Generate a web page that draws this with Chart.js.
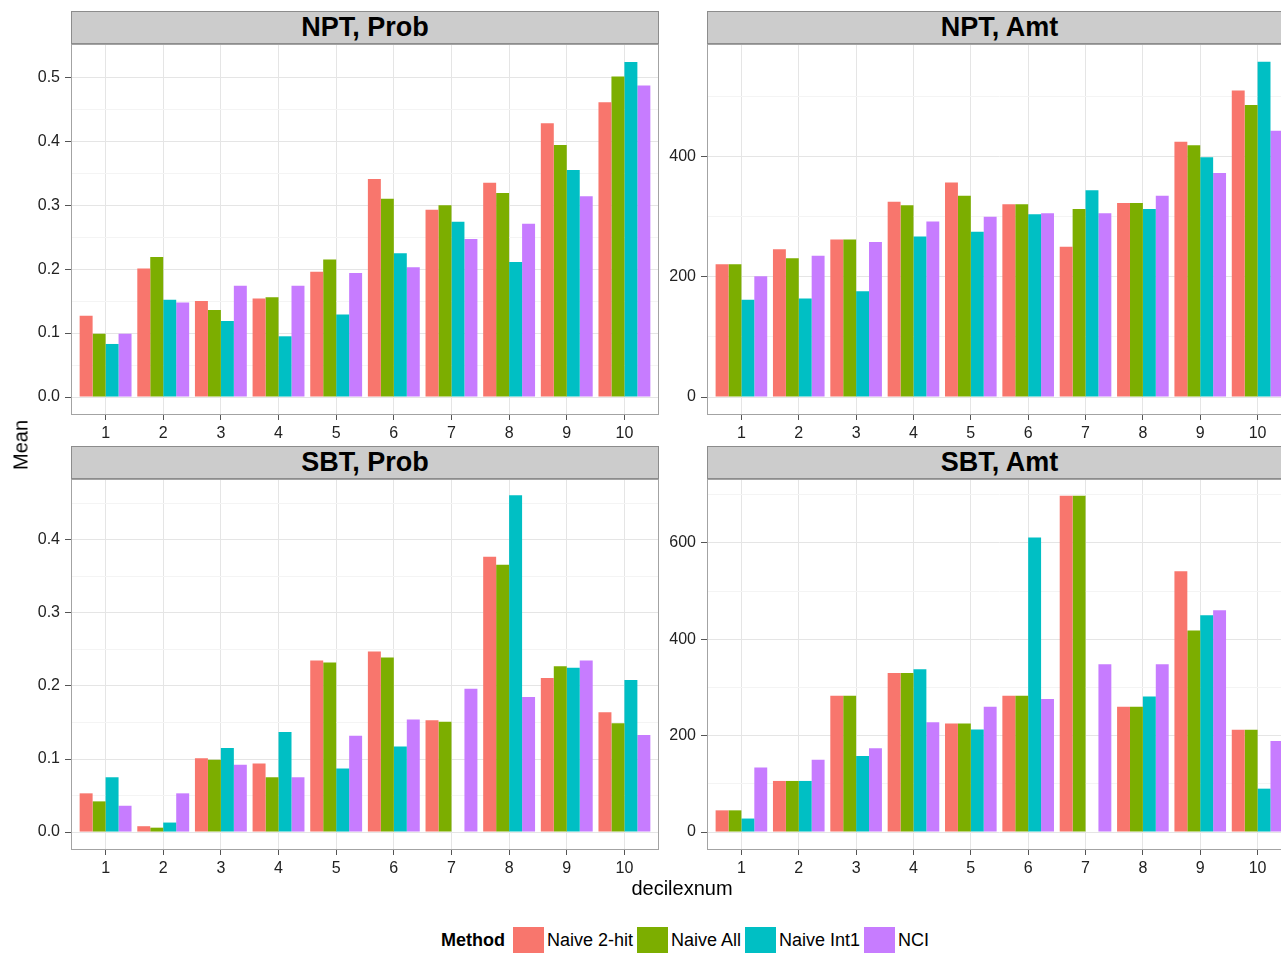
<!DOCTYPE html>
<html lang="en">
<head>
<meta charset="UTF-8">
<title>Mean by decile and method</title>
<script src="https://cdn.jsdelivr.net/npm/chart.js@4.4.8/dist/chart.umd.min.js"></script>
<style>
  html, body { margin: 0; padding: 0; background: #fff; overflow: hidden; }
  #page { position: relative; width: 1281px; height: 953px; overflow: hidden;
          font-family: "Liberation Sans", Arial, sans-serif; color: #000; }
  canvas { position: absolute; }
  .strip { position: absolute; height: 33px; box-sizing: border-box; background: #cccccc;
           border: 1px solid #8c8c8c; font-weight: bold; font-size: 27px; line-height: 31px;
           text-align: center; }
  .axis-title { position: absolute; font-size: 20px; white-space: nowrap; }
  #legend { position: absolute; left: 441px; top: 927px; height: 26px; display: flex;
            align-items: center; font-size: 18px; white-space: nowrap; }
  #legend b { margin-right: 8px; }
  #legend .key { width: 31px; height: 26px; margin-right: 3px; }
  #legend .lab { margin-right: 4px; }
</style>
</head>
<body>
<div id="page">
  <canvas id="c1" width="659" height="434" style="left:0px; top:11px;"></canvas>
  <canvas id="c2" width="632" height="434" style="left:660px; top:11px;"></canvas>
  <canvas id="c3" width="659" height="434" style="left:0px; top:446px;"></canvas>
  <canvas id="c4" width="632" height="434" style="left:660px; top:446px;"></canvas>

  <div class="strip" style="left:71px; top:11px; width:588px;">NPT, Prob</div>
  <div class="strip" style="left:707px; top:11px; width:585px;">NPT, Amt</div>
  <div class="strip" style="left:71px; top:446px; width:588px;">SBT, Prob</div>
  <div class="strip" style="left:707px; top:446px; width:585px;">SBT, Amt</div>

  <div class="axis-title" style="left:21px; top:445px; transform: translate(-50%, -50%) rotate(-90deg);">Mean</div>
  <div class="axis-title" style="left:682px; top:877px; transform: translateX(-50%);">decilexnum</div>

  <div id="legend"></div>
</div>

<script>
// categories
const deciles = [1, 2, 3, 4, 5, 6, 7, 8, 9, 10];
const methods = ['Naive 2-hit', 'Naive All', 'Naive Int1', 'NCI'];
const methodColors = ['#F8766D', '#7CAE00', '#00BFC4', '#C77CFF'];

// NPT, Prob
const nptProb2hit = [0.127, 0.201, 0.150, 0.154, 0.196, 0.341, 0.293, 0.335, 0.428, 0.461];
const nptProbAll  = [0.099, 0.219, 0.136, 0.156, 0.215, 0.310, 0.300, 0.319, 0.394, 0.501];
const nptProbInt1 = [0.083, 0.152, 0.119, 0.095, 0.129, 0.225, 0.274, 0.211, 0.355, 0.524];
const nptProbNci  = [0.099, 0.148, 0.174, 0.174, 0.194, 0.203, 0.247, 0.271, 0.314, 0.487];

// NPT, Amt
const nptAmt2hit = [221, 246, 262, 325, 357, 321, 250, 323, 425, 510];
const nptAmtAll  = [221, 231, 262, 319, 335, 321, 313, 323, 419, 486];
const nptAmtInt1 = [162, 164, 176, 267, 275, 304, 344, 313, 399, 558];
const nptAmtNci  = [201, 235, 258, 292, 300, 306, 306, 335, 373, 443];

// SBT, Prob
const sbtProb2hit = [0.053, 0.008, 0.101, 0.094, 0.235, 0.247, 0.153, 0.377, 0.211, 0.164];
const sbtProbAll  = [0.042, 0.006, 0.099, 0.075, 0.232, 0.239, 0.151, 0.366, 0.227, 0.149];
const sbtProbInt1 = [0.075, 0.013, 0.115, 0.137, 0.087, 0.117, null, 0.461, 0.225, 0.208];
const sbtProbNci  = [0.036, 0.053, 0.092, 0.075, 0.132, 0.154, 0.196, 0.185, 0.235, 0.133];

// SBT, Amt
const sbtAmt2hit = [45, 106, 283, 330, 225, 283, 698, 260, 541, 212];
const sbtAmtAll  = [45, 106, 283, 330, 225, 283, 698, 260, 418, 212];
const sbtAmtInt1 = [28, 106, 158, 338, 213, 611, null, 281, 450, 90];
const sbtAmtNci  = [134, 150, 174, 228, 260, 276, 348, 348, 460, 189];

// y tick labels (major) and minor grid positions
const nptProbTicks = [0, 0.1, 0.2, 0.3, 0.4, 0.5];
const nptProbMinor = [0.05, 0.15, 0.25, 0.35, 0.45];
const nptAmtTicks = [0, 200, 400];
const nptAmtMinor = [100, 300, 500];
const sbtProbTicks = [0, 0.1, 0.2, 0.3, 0.4];
const sbtProbMinor = [0.05, 0.15, 0.25, 0.35, 0.45];
const sbtAmtTicks = [0, 200, 400, 600];
const sbtAmtMinor = [100, 300, 500, 700];

// panel border like theme_bw
const panelBorder = {
  id: 'panelBorder',
  afterDraw(chart) {
    const a = chart.chartArea, c = chart.ctx;
    c.save();
    c.strokeStyle = '#a3a3a3';
    c.lineWidth = 1;
    c.strokeRect(a.left + 0.5, a.top + 0.5, a.right - a.left - 1, a.bottom - a.top);
    c.restore();
  }
};

function makePanel(id, series, yMin, yMax, majors, minors, digits, yWidth) {
  const datasets = series.map((vals, i) => ({
    label: methods[i],
    data: deciles.map((d, j) => ({ x: d, y: vals[j] })),
    backgroundColor: methodColors[i],
    borderWidth: 0,
    categoryPercentage: 0.9,
    barPercentage: 1.0
  }));
  const isMajor = v => majors.includes(v);
  new Chart(document.getElementById(id), {
    type: 'bar',
    data: { datasets: datasets },
    options: {
      responsive: false,
      animation: false,
      layout: { padding: { top: 33, left: 0, right: 0, bottom: 0 } },
      plugins: { legend: { display: false }, tooltip: { enabled: true } },
      scales: {
        x: {
          type: 'linear',
          min: 0.4, max: 10.6,
          offset: false,
          border: { display: false },
          grid: { offset: false, color: '#e5e5e5', tickColor: '#555', tickLength: 6 },
          ticks: { font: { family: 'Liberation Sans', size: 16 }, color: '#222', padding: 4,
                   maxRotation: 0, autoSkip: false, callback: v => String(v) },
          afterBuildTicks: s => { s.ticks = deciles.map(v => ({ value: v })); },
          afterFit: s => { s.height = 31; }
        },
        y: {
          min: yMin, max: yMax,
          border: { display: false },
          grid: {
            color: ctx => isMajor(ctx.tick.value) ? '#e5e5e5' : '#f4f4f4',
            tickColor: ctx => isMajor(ctx.tick.value) ? '#555' : 'rgba(0,0,0,0)',
            tickLength: 6
          },
          ticks: { font: { family: 'Liberation Sans', size: 16 }, color: '#222', padding: 5,
                   autoSkip: false,
                   callback: v => isMajor(v) ? v.toFixed(digits) : '' },
          afterBuildTicks: s => {
            s.ticks = majors.concat(minors).sort((a, b) => a - b).map(v => ({ value: v }));
          },
          afterFit: s => { s.width = yWidth; }
        }
      }
    },
    plugins: [panelBorder]
  });
}

makePanel('c1', [nptProb2hit, nptProbAll, nptProbInt1, nptProbNci], -0.0265, 0.552, nptProbTicks, nptProbMinor, 1, 71);
makePanel('c2', [nptAmt2hit, nptAmtAll, nptAmtInt1, nptAmtNci], -28.2, 587.5, nptAmtTicks, nptAmtMinor, 0, 47);
makePanel('c3', [sbtProb2hit, sbtProbAll, sbtProbInt1, sbtProbNci], -0.0232, 0.4833, sbtProbTicks, sbtProbMinor, 1, 71);
makePanel('c4', [sbtAmt2hit, sbtAmtAll, sbtAmtInt1, sbtAmtNci], -35.2, 732.5, sbtAmtTicks, sbtAmtMinor, 0, 47);

// legend
const legend = document.getElementById('legend');
const title = document.createElement('b');
title.textContent = 'Method';
legend.appendChild(title);
methods.forEach((m, i) => {
  const key = document.createElement('span');
  key.className = 'key';
  key.style.background = methodColors[i];
  const lab = document.createElement('span');
  lab.className = 'lab';
  lab.textContent = m;
  legend.appendChild(key);
  legend.appendChild(lab);
});
</script>
</body>
</html>
